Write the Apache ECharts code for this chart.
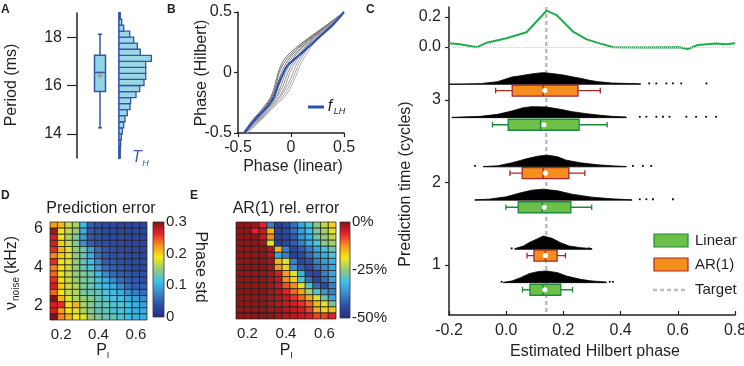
<!DOCTYPE html>
<html><head><meta charset="utf-8">
<script src="https://cdn.jsdelivr.net/npm/echarts@6/dist/echarts.min.js"></script>
<style>html,body{margin:0;padding:0;background:#fff}#c{width:744px;height:366px}</style>
</head><body><div id="c"></div>
<script>
// ================= DATA =================
// Panel A: period distribution (ms)
const periodBinLow = [13,13.25,13.5,13.75,14,14.25,14.5,14.75,15,15.25,15.5,15.75,16,16.25,16.5,16.75,17,17.25,17.5,17.75,18,18.25,18.5,18.75];
const periodCounts = [1,1.3,1.7,2.3,3.3,4.7,6,8.3,11,11.7,17,20.7,25,26.7,26.7,26.7,32.3,21.3,18.3,14.7,10.7,4.7,2.7,1.3];
const periodBox = [14.25, 15.75, 16.54, 17.25, 18.12]; // min,q1,median,q3,max
const periodMean = 16.42;
const periodTicks = [14, 16, 18];

// Panel B: phase mapping
const phaseTicks = [-0.5, 0, 0.5];
const hilbertLevels = [-0.5,-0.4,-0.3,-0.2,-0.1,0,0.1,0.2,0.3,0.4,0.5];
const grayCurvesX = [
  [-0.45,-0.37,-0.27,-0.19,-0.15,-0.12,-0.07,0.04,0.19,0.35,0.5],
  [-0.45,-0.36,-0.26,-0.18,-0.14,-0.11,-0.05,0.06,0.2,0.35,0.5],
  [-0.44,-0.35,-0.25,-0.17,-0.13,-0.09,-0.03,0.07,0.21,0.36,0.5],
  [-0.44,-0.35,-0.24,-0.16,-0.11,-0.07,-0.01,0.09,0.22,0.36,0.5],
  [-0.44,-0.34,-0.23,-0.14,-0.09,-0.05,0.01,0.1,0.23,0.37,0.5],
  [-0.43,-0.33,-0.22,-0.13,-0.07,-0.03,0.03,0.12,0.24,0.37,0.5],
  [-0.43,-0.32,-0.21,-0.11,-0.05,-0.01,0.05,0.13,0.25,0.38,0.5],
  [-0.42,-0.31,-0.2,-0.1,-0.03,0.02,0.07,0.15,0.26,0.38,0.5],
  [-0.42,-0.3,-0.19,-0.08,-0.01,0.04,0.09,0.16,0.27,0.39,0.5],
  [-0.41,-0.29,-0.18,-0.06,0.01,0.06,0.11,0.18,0.28,0.39,0.5]
];
const fLH = [[-0.44,-0.5],[-0.33,-0.38],[-0.22,-0.28],[-0.16,-0.2],[-0.12,-0.1],[-0.08,-0.02],[-0.04,0.05],[0.02,0.1],[0.1,0.16],[0.25,0.28],[0.4,0.4],[0.5,0.5]];

// Panel C
const phaseTicksC = [-0.2, 0, 0.2, 0.4, 0.6, 0.8];
const predTimes = [3, 2, 1];
const topTicks = [0, 0.2];
const targetPhase = 0.14;
const greenLine = [[-0.2,0.025],[-0.162,0.018],[-0.103,-0.002],[-0.068,0.029],[0.001,0.058],[0.071,0.098],[0.141,0.242],[0.176,0.213],[0.234,0.102],[0.281,0.051],[0.327,0.024],[0.374,-0.002],[0.49,-0.004],[0.606,-0.002],[0.635,-0.013],[0.67,0.013],[0.734,0.024],[0.769,0.018],[0.8,0.025]];
// boxes: [min, q1, median, q3, max, mean]
const arBoxes = [[-0.037,0.021,0.129,0.251,0.329,0.135],[0.013,0.056,0.129,0.219,0.275,0.137],[0.073,0.097,0.137,0.178,0.207,0.137]];
const linBoxes = [[-0.048,0.007,0.12,0.255,0.353,0.132],[-0.001,0.042,0.126,0.226,0.299,0.133],[0.057,0.083,0.129,0.191,0.232,0.135]];
// histograms: [phase, density a.u.]
const arHists = [
  [[-0.2,0.3],[-0.15,0.4],[-0.09,0.7],[-0.03,2.7],[0.02,7.3],[0.05,8.6],[0.08,10],[0.11,11.2],[0.13,11.7],[0.16,10.8],[0.2,9.3],[0.23,7.6],[0.26,6],[0.29,4.1],[0.32,2.7],[0.37,1.3],[0.47,0.5]],
  [[-0.08,0.3],[-0.03,1],[0.02,4],[0.05,6.4],[0.07,8],[0.11,10.7],[0.14,11.7],[0.16,11],[0.18,10],[0.21,6.7],[0.26,4],[0.32,2],[0.37,1],[0.42,0.3]],
  [[0.03,0.7],[0.06,3.3],[0.08,6.7],[0.11,10.7],[0.13,13.3],[0.16,11],[0.19,6.7],[0.22,3.3],[0.26,1.7],[0.3,0.7]]
];
const linHists = [
  [[-0.19,0.3],[-0.09,1.3],[-0.03,3.3],[0.02,6.7],[0.06,10],[0.09,11],[0.14,10.7],[0.19,8.3],[0.23,6],[0.28,4],[0.33,2.3],[0.37,1.3],[0.42,0.7]],
  [[-0.11,0.3],[-0.06,1],[0.0,3.3],[0.05,7.3],[0.09,10],[0.13,11],[0.18,9.3],[0.23,6],[0.3,3],[0.37,1.3],[0.44,0.3]],
  [[-0.01,0.3],[0.02,1.7],[0.05,5],[0.08,9],[0.11,11],[0.14,11.7],[0.18,10],[0.21,6.7],[0.26,3.3],[0.3,1.7],[0.35,0.7]]
];
const arOutliers = [[0.5,0.525,0.56,0.583,0.612,0.7],[-0.109,0.443,0.478,0.507],[0.019,0.29]];
const linOutliers = [[0.467,0.49,0.525,0.548,0.571,0.63,0.664,0.699,0.734],[0.467,0.49,0.513,0.583],[-0.016,0.362,0.373]];

// Panels D, E: heatmaps
const pI = [0.16,0.20,0.24,0.28,0.32,0.36,0.40,0.44,0.48,0.52,0.56,0.60,0.64];
const vNoise = [1.40,1.72,2.04,2.36,2.68,3.00,3.32,3.64,3.96,4.28,4.60,4.92,5.24,5.56,5.88,6.20];
const pITicks = [0.2, 0.4, 0.6];
const vNoiseTicks = [2, 4, 6];
const phaseStdTicks = [0, 0.1, 0.2, 0.3];
const relErrTicks = [-50, -25, 0];
// rows listed from top (highest noise) to bottom
const predErrRows = [
  [0.22,0.21,0.17,0.16,0.11,0.05,0.04,0.035,0.035,0.03,0.03,0.03,0.03],
  [0.29,0.19,0.17,0.15,0.10,0.045,0.04,0.035,0.035,0.03,0.03,0.03,0.03],
  [0.27,0.19,0.16,0.14,0.09,0.045,0.04,0.035,0.035,0.035,0.03,0.03,0.03],
  [0.27,0.20,0.17,0.14,0.08,0.05,0.04,0.04,0.035,0.035,0.03,0.03,0.03],
  [0.26,0.21,0.18,0.15,0.13,0.09,0.06,0.045,0.04,0.035,0.035,0.03,0.03],
  [0.23,0.20,0.18,0.15,0.13,0.10,0.06,0.045,0.04,0.04,0.035,0.035,0.03],
  [0.26,0.19,0.18,0.15,0.13,0.11,0.08,0.05,0.045,0.04,0.035,0.035,0.035],
  [0.23,0.19,0.17,0.15,0.13,0.12,0.09,0.06,0.05,0.045,0.04,0.035,0.035],
  [0.24,0.19,0.17,0.15,0.14,0.13,0.11,0.08,0.06,0.05,0.045,0.04,0.04],
  [0.26,0.19,0.17,0.15,0.14,0.13,0.12,0.10,0.08,0.06,0.05,0.045,0.04],
  [0.27,0.20,0.17,0.16,0.14,0.13,0.12,0.11,0.10,0.08,0.06,0.05,0.05],
  [0.24,0.19,0.17,0.16,0.14,0.13,0.13,0.12,0.11,0.10,0.08,0.07,0.06],
  [0.30,0.21,0.18,0.16,0.15,0.14,0.13,0.12,0.12,0.11,0.10,0.09,0.08],
  [0.27,0.26,0.19,0.21,0.16,0.14,0.13,0.13,0.12,0.12,0.11,0.10,0.09],
  [0.27,0.22,0.19,0.18,0.16,0.14,0.13,0.13,0.12,0.12,0.11,0.10,0.10],
  [0.30,0.23,0.21,0.19,0.18,0.15,0.14,0.13,0.13,0.12,0.11,0.10,0.10]
];
const arRelErrRows = [
  [-1,-1,-2,-6,-38,-46,-44,-40,-34,-30,-26,-22,-17],
  [-1,-1,-6,-4,-15,-45,-44,-40,-35,-31,-27,-24,-20],
  [-1,-1,-1,-4,-12,-46,-45,-42,-36,-33,-28,-25,-22],
  [-1,-1,-1,-2,-20,-46,-45,-42,-38,-33,-30,-26,-24],
  [-1,-1,-1,-1,-3,-15,-38,-45,-42,-38,-34,-30,-28],
  [-1,-1,-1,-1,-3,-34,-38,-46,-44,-40,-36,-33,-30],
  [-1,-1,-1,-1,-2,-15,-20,-38,-45,-43,-38,-35,-33],
  [-1,-1,-1,-1,-2,-13,-17,-36,-42,-44,-40,-37,-34],
  [-1,-1,-1,-1,-2,-5,-13,-20,-33,-44,-45,-38,-34],
  [-1,-1,-1,-1,-2,-4,-12,-17,-30,-40,-45,-40,-35],
  [-1,-1,-1,-1,-2,-4,-9,-12,-20,-30,-40,-44,-38],
  [-1,-1,-1,-1,-2,-3,-6,-10,-14,-24,-30,-36,-38],
  [-1,-1,-1,-1,-2,-3,-4,-7,-10,-14,-20,-28,-34],
  [-1,-1,-1,-1,-2,-3,-4,-5,-7,-10,-15,-20,-27],
  [-1,-1,-1,-1,-2,-2,-3,-4,-5,-8,-14,-17,-16],
  [-1,-1,-1,-1,-1,-2,-3,-3,-4,-5,-8,-8,-6]
];

// ================= STYLE =================
const FONT = 'Liberation Sans';
const FCSS = '"Liberation Sans", Arial, sans-serif';
const INK = '#231f20';
const JET = ['#262d80','#2e4ca5','#3a86c8','#3cc1ec','#95cb78','#f2e91a','#f7941d','#e9212a','#7b1416'];
const AR_HIST_OFF = 0.19, AR_BOX_OFF = 0.114, LIN_HIST_OFF = -0.214, LIN_BOX_OFF = -0.30;
const HIST_UNIT = 1 / 82.5;
const BOX_H = 11;
const COL = { ar: {fill:'#f68e1e', stroke:'#a3282a'}, lin: {fill:'#6cbf47', stroke:'#1b8a3d'} };

function vAxis(o) {
  return Object.assign({type:'value', splitLine:{show:false}, axisLine:{show:false, onZero:false}, axisTick:{show:false}, axisLabel:{show:false}}, o);
}
function lab(values, o) {
  return Object.assign({show:true, customValues: values, color: INK, fontFamily: FONT, fontSize: 16}, o || {});
}
function tick(values, o) {
  return Object.assign({show:true, customValues: values, lineStyle:{color: INK, width: 1.2}}, o || {});
}
const blackLine = {show:true, onZero:false, lineStyle:{color: INK, width: 1.5}};

// heatmap data
function heatData(rows) {
  const out = [];
  rows.forEach((row, r) => row.forEach((v, c) => out.push([pI[c], vNoise[vNoise.length - 1 - r], v])));
  return out;
}
const DX = pI[1] - pI[0], DY = vNoise[1] - vNoise[0];
function renderHeat(params, api) {
  const x = api.value(0), y = api.value(1);
  const p0 = api.coord([x - DX / 2, y + DY / 2]);
  const p1 = api.coord([x + DX / 2, y - DY / 2]);
  return {type:'rect', shape:{x:p0[0], y:p0[1], width:p1[0]-p0[0], height:p1[1]-p0[1]},
    style:{fill: api.visual('color'), stroke:'#1b1b1b', lineWidth:0.7}};
}
function renderColorbar(ticks) {
  return function (params, api) {
    const p0 = api.coord([0, ticks[ticks.length - 1]]);
    const p1 = api.coord([1, ticks[0]]);
    const stops = JET.map((c, i) => ({offset: 1 - i / (JET.length - 1), color: c}));
    return {type:'rect', shape:{x:p0[0], y:p0[1], width:p1[0]-p0[0], height:p1[1]-p0[1]},
      style:{fill: new echarts.graphic.LinearGradient(0, 0, 0, 1, stops.reverse()), stroke:'#333', lineWidth:0.8}};
  };
}

// Panel A box (vertical)
function renderBoxA(params, api) {
  const x = api.value(0);
  const c = v => api.coord([x, v]);
  const pmin = c(api.value(1)), pq1 = c(api.value(2)), pmed = c(api.value(3)), pq3 = c(api.value(4)), pmax = c(api.value(5)), pmean = c(api.value(6));
  const cx = pmin[0], w = 11, st = '#3455a5';
  return {type:'group', children:[
    {type:'line', shape:{x1:cx, y1:pmin[1], x2:cx, y2:pmax[1]}, style:{stroke:st, lineWidth:1.5}},
    {type:'line', shape:{x1:cx-2, y1:pmin[1], x2:cx+2, y2:pmin[1]}, style:{stroke:st, lineWidth:1.5}},
    {type:'line', shape:{x1:cx-2, y1:pmax[1], x2:cx+2, y2:pmax[1]}, style:{stroke:st, lineWidth:1.5}},
    {type:'rect', shape:{x:cx-w/2, y:pq3[1], width:w, height:pq1[1]-pq3[1]}, style:{fill:'#8fd5e2', stroke:st, lineWidth:1.5}},
    {type:'line', shape:{x1:cx-w/2, y1:pmed[1], x2:cx+w/2, y2:pmed[1]}, style:{stroke:st, lineWidth:1.5}},
    {type:'circle', shape:{cx:cx, cy:pmean[1], r:2.2}, style:{fill:'#a9a9a9', stroke:'#8a8a8a', lineWidth:0.6}}
  ]};
}
function renderHistA(params, api) {
  const lo = api.value(0), n = api.value(1);
  const bw = periodBinLow[1] - periodBinLow[0];
  const p0 = api.coord([0, lo + bw]), p1 = api.coord([n, lo]);
  return {type:'rect', shape:{x:p0[0], y:p0[1], width:p1[0]-p0[0], height:p1[1]-p0[1]},
    style:{fill:'#9ad8e6', stroke:'#3455a5', lineWidth:1.3}};
}

// Panel C
function renderTarget(params, api) {
  const cs = params.coordSys;
  const p = api.coord([api.value(0), api.value(1)]);
  return {type:'line', shape:{x1:p[0], y1:cs.y, x2:p[0], y2:cs.y + cs.height},
    style:{stroke:'#bdbdbd', lineWidth:2.5, lineDash:[4,3]}};
}
function renderHistC(params, api) {
  const t = api.value(0), kind = api.value(1), g = api.value(2);
  const hist = kind === 0 ? arHists[g] : linHists[g];
  const outl = kind === 0 ? arOutliers[g] : linOutliers[g];
  const base = t + (kind === 0 ? AR_HIST_OFF : LIN_HIST_OFF);
  const pts = [api.coord([hist[0][0], base])];
  hist.forEach(([p, d]) => pts.push(api.coord([p, base + d * HIST_UNIT])));
  pts.push(api.coord([hist[hist.length - 1][0], base]));
  const children = [{type:'polygon', shape:{points: pts}, style:{fill:'#000', stroke:'#000', lineWidth:0.8}}];
  outl.forEach(o => {
    const c = api.coord([o, base]);
    children.push({type:'rect', shape:{x:c[0]-0.9, y:c[1]-1.8, width:1.8, height:1.8}, style:{fill:'#000'}});
  });
  return {type:'group', children};
}
function renderBoxC(params, api) {
  const t = api.value(0), kind = api.value(1);
  const yc = t + (kind === 0 ? AR_BOX_OFF : LIN_BOX_OFF);
  const c = i => api.coord([api.value(i), yc]);
  const pmin = c(2), pq1 = c(3), pmed = c(4), pq3 = c(5), pmax = c(6), pmean = c(7);
  const y = pmin[1], h = BOX_H;
  const col = kind === 0 ? COL.ar : COL.lin;
  return {type:'group', children:[
    {type:'line', shape:{x1:pmin[0], y1:y, x2:pmax[0], y2:y}, style:{stroke:col.stroke, lineWidth:1.3}},
    {type:'line', shape:{x1:pmin[0], y1:y-2.8, x2:pmin[0], y2:y+2.8}, style:{stroke:col.stroke, lineWidth:1.3}},
    {type:'line', shape:{x1:pmax[0], y1:y-2.8, x2:pmax[0], y2:y+2.8}, style:{stroke:col.stroke, lineWidth:1.3}},
    {type:'rect', shape:{x:pq1[0], y:y-h/2, width:pq3[0]-pq1[0], height:h}, style:{fill:col.fill, stroke:col.stroke, lineWidth:1.3}},
    {type:'line', shape:{x1:pmed[0], y1:y-h/2, x2:pmed[0], y2:y+h/2}, style:{stroke:col.stroke, lineWidth:1.3}},
    {type:'circle', shape:{cx:pmean[0], cy:y, r:2.6}, style:{fill:'#fff'}}
  ]};
}

const histCData = [], boxCData = [];
predTimes.forEach((t, g) => {
  histCData.push([t, 0, g]); histCData.push([t, 1, g]);
  boxCData.push([t, 0].concat(arBoxes[g]));
  boxCData.push([t, 1].concat(linBoxes[g]));
});

// ================= TEXT =================
function txt(x, y, text, size, o) {
  o = o || {};
  return {type:'text', x, y, rotation: o.rot || 0, z: 50,
    style:{text, fill: o.color || INK, align: o.align || 'center', verticalAlign: o.va || 'middle',
      font: `${o.italic ? 'italic ' : ''}${o.bold ? 'bold ' : ''}${size}px ${FCSS}`}};
}
const R90 = Math.PI / 2;
const graphic = [
  txt(1, 4, 'A', 12, {bold:true, align:'left', va:'top'}),
  txt(167, 4, 'B', 12, {bold:true, align:'left', va:'top'}),
  txt(366, 4, 'C', 12, {bold:true, align:'left', va:'top'}),
  txt(1, 190, 'D', 12, {bold:true, align:'left', va:'top'}),
  txt(190, 190, 'E', 12, {bold:true, align:'left', va:'top'}),
  txt(12, 85, 'Period (ms)', 16, {rot:R90}),
  txt(137, 158, 'T', 16, {italic:true, color:'#3a5bb0'}),
  txt(145.5, 163, 'H', 9, {italic:true, color:'#3a5bb0'}),
  {type:'line', z:50, shape:{x1:308, y1:107, x2:324, y2:107}, style:{stroke:'#2f4fae', lineWidth:3}},
  txt(330, 107, 'f', 16, {italic:true}),
  txt(339.5, 111.5, 'LH', 9, {italic:true}),
  txt(202, 73, 'Phase (Hilbert)', 16, {rot:R90}),
  txt(293, 167, 'Phase (linear)', 16),
  txt(406, 184, 'Prediction time (cycles)', 16, {rot:R90}),
  txt(595, 352, 'Estimated Hilbert phase', 16),
  {type:'rect', z:50, shape:{x:654, y:234, width:34, height:13}, style:{fill:COL.lin.fill, stroke:COL.lin.stroke, lineWidth:1.2}},
  {type:'rect', z:50, shape:{x:654, y:258, width:34, height:13}, style:{fill:COL.ar.fill, stroke:COL.ar.stroke, lineWidth:1.2}},
  {type:'line', z:50, shape:{x1:653, y1:290, x2:686, y2:290}, style:{stroke:'#bdbdbd', lineWidth:2.5, lineDash:[4,3]}},
  txt(695, 241, 'Linear', 15, {align:'left'}),
  txt(695, 264.5, 'AR(1)', 15, {align:'left'}),
  txt(695, 290, 'Target', 15, {align:'left'}),
  txt(101, 209, 'Prediction error', 16),
  txt(286, 209, 'AR(1) rel. error', 16),
  txt(12, 306, 'ν', 16, {rot:R90}),
  txt(16.5, 289, 'noise', 10, {rot:R90}),
  txt(12, 255, '(kHz)', 16, {rot:R90}),
  txt(200, 267, 'Phase std', 16, {rot:-R90}),
  txt(101.5, 351, 'P', 16),
  txt(108, 356, 'I', 9),
  txt(285, 351, 'P', 16),
  txt(291.5, 356, 'I', 9)
];

// ================= OPTION =================
const grids = [
  {left:77, top:13, width:46, height:145},   // 0 A box
  {left:119, top:13, width:40, height:145},  // 1 A hist
  {left:238, top:12, width:106, height:121}, // 2 B
  {left:449, top:7, width:286, height:308},  // 3 C main
  {left:449, top:7, width:286, height:50},   // 4 C top line
  {left:50, top:222, width:97, height:98},   // 5 D
  {left:153, top:222, width:11, height:95},  // 6 D colorbar
  {left:236, top:222, width:100, height:97}, // 7 E
  {left:340, top:222, width:10, height:96}   // 8 E colorbar
].map(g => Object.assign({outerBoundsMode:'none', containLabel:false}, g));

const pMin = pI[0] - DX / 2, pMax = pI[pI.length - 1] + DX / 2;
const nMin = vNoise[0] - DY / 2, nMax = vNoise[vNoise.length - 1] + DY / 2;
const cYMin = 1 - 50/82.5, cYMax = 1 + 258/82.5;

const xAxis = [
  vAxis({gridIndex:0, min:0, max:2}),
  vAxis({gridIndex:1, min:0, max:40}),
  vAxis({gridIndex:2, min:-0.5, max:0.5, axisLine:blackLine, axisTick:tick(phaseTicks, {length:4}), axisLabel:lab(phaseTicks, {margin:7})}),
  vAxis({gridIndex:3, min:-0.2, max:0.8, axisLine:blackLine, axisTick:tick(phaseTicksC, {length:4, inside:true}),
    axisLabel:lab(phaseTicksC, {margin:8, formatter: v => v.toFixed(1)})}),
  vAxis({gridIndex:4, min:-0.2, max:0.8}),
  vAxis({gridIndex:5, min:pMin, max:pMax, axisLabel:lab(pITicks, {margin:7, fontSize:15})}),
  vAxis({gridIndex:6, min:0, max:1}),
  vAxis({gridIndex:7, min:pMin, max:pMax, axisLabel:lab(pITicks, {margin:7, fontSize:15})}),
  vAxis({gridIndex:8, min:0, max:1})
];
const yAxis = [
  vAxis({gridIndex:0, min:13, max:19, axisLine:blackLine, axisTick:tick(periodTicks, {length:10}), axisLabel:lab(periodTicks, {margin:15})}),
  vAxis({gridIndex:1, min:13, max:19, axisLine:{show:true, onZero:false, lineStyle:{color:'#3455a5', width:2.5}}}),
  vAxis({gridIndex:2, min:-0.5, max:0.5, axisLine:blackLine, axisTick:tick(phaseTicks, {length:4}), axisLabel:lab(phaseTicks, {margin:6})}),
  vAxis({gridIndex:3, min:cYMin, max:cYMax, axisLine:blackLine, axisTick:tick(predTimes, {length:4}), axisLabel:lab(predTimes, {margin:8})}),
  vAxis({gridIndex:4, min:-10/150, max:0.2 + 10/150, axisTick:tick(topTicks, {length:4}), axisLabel:lab(topTicks, {margin:8, formatter: v => v.toFixed(1)})}),
  vAxis({gridIndex:5, min:nMin, max:nMax, axisLabel:lab(vNoiseTicks, {margin:7, fontSize:16})}),
  vAxis({gridIndex:6, min:phaseStdTicks[0], max:phaseStdTicks[phaseStdTicks.length-1], position:'right', axisLabel:lab(phaseStdTicks, {margin:2, fontSize:15})}),
  vAxis({gridIndex:7, min:nMin, max:nMax}),
  vAxis({gridIndex:8, min:relErrTicks[0], max:relErrTicks[relErrTicks.length-1], position:'right', axisLabel:lab(relErrTicks, {margin:2, fontSize:15, formatter: v => v + '%'})})
];

const series = [];
// A
series.push({type:'custom', xAxisIndex:0, yAxisIndex:0, renderItem: renderBoxA, data:[[1].concat(periodBox, [periodMean])], silent:true});
series.push({type:'custom', xAxisIndex:1, yAxisIndex:1, renderItem: renderHistA, data: periodBinLow.map((lo, i) => [lo, periodCounts[i]]), silent:true});
// B
grayCurvesX.forEach((xs, i) => {
  const shade = Math.round(105 + i * 8);
  series.push({type:'line', xAxisIndex:2, yAxisIndex:2, data: xs.map((x, j) => [x, hilbertLevels[j]]), smooth:0.35, showSymbol:false, silent:true,
    lineStyle:{color:`rgb(${shade},${shade},${shade})`, width:1}});
});
series.push({type:'line', xAxisIndex:2, yAxisIndex:2, data: fLH, smooth:0.35, showSymbol:false, silent:true, z:5, lineStyle:{color:'#2f4fae', width:2.2}});
// C target line (behind everything in C)
series.push({type:'custom', xAxisIndex:3, yAxisIndex:3, renderItem: renderTarget, data:[[targetPhase, (cYMin + cYMax) / 2]], silent:true, z:1});
series.push({type:'line', xAxisIndex:4, yAxisIndex:4, data: greenLine, showSymbol:false, silent:true, z:3, lineStyle:{color:'#1fae4b', width:2},
  markLine:{silent:true, symbol:'none', label:{show:false}, lineStyle:{color:'#d0d0d0', width:1, type:'dotted'}, data:[{yAxis: 0}]}});
series.push({type:'custom', xAxisIndex:3, yAxisIndex:3, renderItem: renderHistC, data: histCData, silent:true, z:6});
series.push({type:'custom', xAxisIndex:3, yAxisIndex:3, renderItem: renderBoxC, data: boxCData, silent:true, z:7});
// D, E
const idxD = series.length;
series.push({type:'custom', xAxisIndex:5, yAxisIndex:5, renderItem: renderHeat, data: heatData(predErrRows), silent:true});
series.push({type:'custom', xAxisIndex:6, yAxisIndex:6, renderItem: renderColorbar(phaseStdTicks), data:[[0.5, 0.15]], silent:true});
const idxE = series.length;
series.push({type:'custom', xAxisIndex:7, yAxisIndex:7, renderItem: renderHeat, data: heatData(arRelErrRows), silent:true});
series.push({type:'custom', xAxisIndex:8, yAxisIndex:8, renderItem: renderColorbar(relErrTicks), data:[[0.5, -25]], silent:true});

const option = {
  animation:false,
  backgroundColor:'#fff',
  textStyle:{fontFamily: FONT},
  grid: grids, xAxis, yAxis, series, graphic,
  visualMap:[
    {type:'continuous', show:false, seriesIndex: idxD, dimension:2, min:phaseStdTicks[0], max:phaseStdTicks[phaseStdTicks.length-1], inRange:{color: JET}},
    {type:'continuous', show:false, seriesIndex: idxE, dimension:2, min:relErrTicks[0], max:relErrTicks[relErrTicks.length-1], inRange:{color: JET}}
  ]
};
const chart = echarts.init(document.getElementById('c'), null, {renderer:'canvas'});
chart.setOption(option);
</script></body></html>
